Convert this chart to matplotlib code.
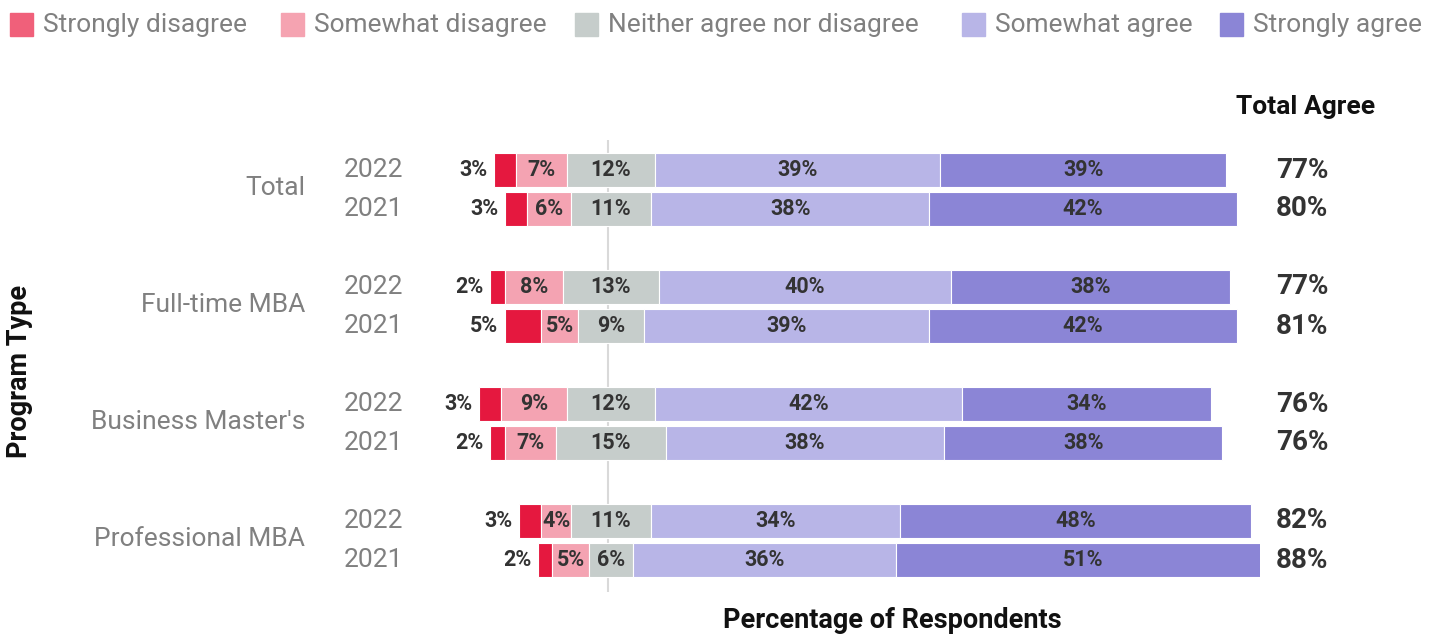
import numpy as np
import matplotlib.pyplot as plt
from matplotlib.transforms import blended_transform_factory
from matplotlib.patches import Rectangle

plt.rcParams['font.family'] = ['Roboto', 'DejaVu Sans']

# data (rows: Total 2022/2021, Full-time MBA 2022/2021, Business Master's 2022/2021, Professional MBA 2022/2021)
groups = ["Total", "Full-time MBA", "Business Master's", "Professional MBA"]
years = ["2022", "2021"]
strongly_dis = [3, 3, 2, 5, 3, 2, 3, 2]
somewhat_dis = [7, 6, 8, 5, 9, 7, 4, 5]
neutral = [12, 11, 13, 9, 12, 15, 11, 6]
somewhat_agr = [39, 38, 40, 39, 42, 38, 34, 36]
strongly_agr = [39, 42, 38, 42, 34, 38, 48, 51]
total_agree = [77, 80, 77, 81, 76, 76, 82, 88]

legend_names = ["Strongly disagree", "Somewhat disagree", "Neither agree nor disagree",
                "Somewhat agree", "Strongly agree"]
colors = ["#E5183F", "#F4A3B2", "#C6CDCB", "#B8B5E7", "#8B85D6"]
legend_colors = ["#F0607A", "#F5A3B1", "#C6CDCB", "#B8B5E7", "#8B85D6"]

W, H = 1430, 638
fig = plt.figure(figsize=(W / 100, H / 100), dpi=100)

def fx(px):
    return px / W

def fy(py):
    return 1 - py / H

# axes placed in pixels
ax_l, ax_r, ax_t, ax_b = 430, 1260, 140, 592
ax = fig.add_axes([fx(ax_l), fy(ax_b), fx(ax_r - ax_l), (ax_b - ax_t) / H])
zero_px, scale = 611, 7.32
ax.set_xlim((ax_l - zero_px) / scale, (ax_r - zero_px) / scale)
row0, row_step = 170, 39
ax.set_ylim((ax_b - row0) / row_step, (ax_t - row0) / row_step)
ax.axis('off')

sd = np.array(strongly_dis, float)
swd = np.array(somewhat_dis, float)
nt = np.array(neutral, float)
swa = np.array(somewhat_agr, float)
sa = np.array(strongly_agr, float)

ypos = np.array([3 * g + j for g in range(len(groups)) for j in range(len(years))], float)
bh = 0.85

left_sd = -(nt / 2 + swd + sd)
left_swd = -(nt / 2 + swd)
left_nt = -nt / 2
left_swa = nt / 2
left_sa = nt / 2 + swa

lab_kw = dict(va='center', fontsize=15.5, fontweight='bold', color='#333333')
segs = [(sd, left_sd), (swd, left_swd), (nt, left_nt), (swa, left_swa), (sa, left_sa)]
for k, (w, l) in enumerate(segs):
    ax.barh(ypos, w, left=l, height=bh, color=colors[k], edgecolor='white', linewidth=0.8)
    for i in range(len(ypos)):
        lab = f"{int(w[i])}%"
        if k == 0:
            ax.text(l[i] - 0.9, ypos[i], lab, ha='right', **lab_kw)
        else:
            ax.text(l[i] + w[i] / 2, ypos[i], lab, ha='center', **lab_kw)

ax.axvline(-0.4, color='#D9D9D9', linewidth=1.5, zorder=0.5)

# labels on the left
tr = blended_transform_factory(fig.transFigure, ax.transData)
for g, name in enumerate(groups):
    ax.text(fx(305), 3 * g + 0.45, name, transform=tr, ha='right', va='center',
            fontsize=19, color='#808080')
    for j, yr in enumerate(years):
        ax.text(fx(344), 3 * g + j, yr, transform=tr, ha='left', va='center',
                fontsize=19, color='#808080')

# total agree
for i in range(len(ypos)):
    ax.text(fx(1302), ypos[i], f"{total_agree[i]}%", transform=tr, ha='center', va='center',
            fontsize=20, fontweight='bold', color='#333333')
fig.text(fx(1306), fy(107), "Total Agree", ha='center', va='center', fontsize=19,
         fontweight='bold', color='#111111')

fig.text(fx(20), fy(371), "Program Type", ha='center', va='center', rotation=90,
         fontsize=19.5, fontweight='bold', color='#111111')
fig.text(fx(892), fy(621), "Percentage of Respondents", ha='center', va='center',
         fontsize=19.5, fontweight='bold', color='#111111')

# legend
leg_x = [10, 281, 575, 962, 1220]
for k, name in enumerate(legend_names):
    fig.patches.append(Rectangle((fx(leg_x[k]), fy(36)), fx(23), 23 / H,
                                 transform=fig.transFigure, color=legend_colors[k]))
    fig.text(fx(leg_x[k] + 33), fy(25), name, ha='left', va='center', fontsize=19,
             color='#808080')

fig.savefig("out.png", dpi=100)
